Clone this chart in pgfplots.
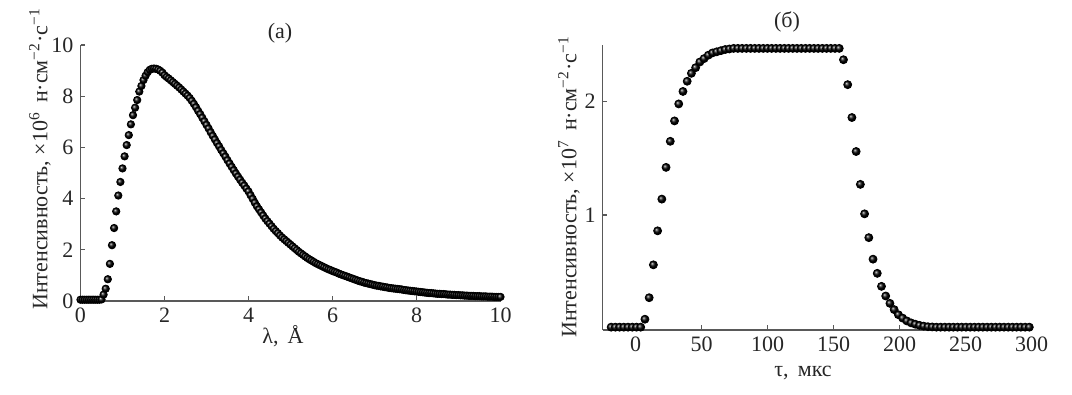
\documentclass[border=0pt]{standalone}
\usepackage{fontspec}
\setmainfont{Liberation Serif}
\usepackage{pgfplots}
\pgfplotsset{compat=1.18}
\usetikzlibrary{plotmarks}

\pgfplotsset{
  myaxis/.style={
    scale only axis,
    axis lines*=left,
    axis line style={black!65, line width=0.6pt},
    tick style={black!65, line width=0.6pt},
    tick align=inside,
    major tick length=2.3pt,
    minor tick num=0,
    /pgf/number format/assume math mode=true,
    ticklabel style={font=\fontsize{11}{13}\selectfont, text=black!85},
    clip=false,
  },
}

\begin{document}
\begin{tikzpicture}
\useasboundingbox (0,0) rectangle (536pt,197.5pt);

% ---------- (a) ----------
\begin{axis}[myaxis,
  at={(40.25pt,47pt)}, anchor=south west,
  width=210pt, height=128pt,
  xmin=0, xmax=10, ymin=0, ymax=10,
  xtick={0,2,...,10}, ytick={0,2,...,10},
]
\addplot[only marks, mark=ball, mark size=1.85pt, mark options={ball color=black}]
coordinates {
(0.00,0.05)(0.05,0.05)(0.10,0.05)(0.15,0.05)(0.20,0.05)(0.25,0.05)(0.30,0.05)(0.35,0.05)
(0.40,0.05)(0.45,0.05)(0.50,0.06)(0.55,0.25)(0.60,0.48)(0.65,0.85)(0.70,1.45)(0.75,2.18)
(0.80,2.85)(0.85,3.50)(0.90,4.12)(0.95,4.65)(1.00,5.18)(1.05,5.65)(1.10,6.09)(1.15,6.48)
(1.20,6.90)(1.25,7.26)(1.30,7.55)(1.35,7.85)(1.40,8.18)(1.45,8.40)(1.50,8.63)(1.55,8.80)
(1.60,8.94)(1.65,9.03)(1.70,9.07)(1.75,9.08)(1.80,9.07)(1.85,9.04)(1.90,8.99)(1.95,8.92)
(2.00,8.82)(2.05,8.75)(2.10,8.69)(2.15,8.62)(2.20,8.55)(2.25,8.48)(2.30,8.41)(2.35,8.34)
(2.40,8.26)(2.45,8.18)(2.50,8.10)(2.55,8.02)(2.60,7.93)(2.65,7.82)(2.70,7.70)(2.75,7.57)
(2.80,7.43)(2.85,7.30)(2.90,7.16)(2.95,7.02)(3.00,6.88)(3.05,6.74)(3.10,6.59)(3.15,6.45)
(3.20,6.31)(3.25,6.17)(3.30,6.04)(3.35,5.90)(3.40,5.77)(3.45,5.64)(3.50,5.50)(3.55,5.37)
(3.60,5.24)(3.65,5.11)(3.70,4.98)(3.75,4.86)(3.80,4.74)(3.85,4.62)(3.90,4.51)(3.95,4.39)
(4.00,4.28)(4.05,4.13)(4.10,3.99)(4.15,3.84)(4.20,3.70)(4.25,3.58)(4.30,3.46)(4.35,3.34)
(4.40,3.22)(4.45,3.12)(4.50,3.02)(4.55,2.92)(4.60,2.82)(4.65,2.73)(4.70,2.65)(4.75,2.56)
(4.80,2.48)(4.85,2.41)(4.90,2.34)(4.95,2.27)(5.00,2.20)(5.05,2.13)(5.10,2.06)(5.15,1.99)
(5.20,1.92)(5.25,1.86)(5.30,1.80)(5.35,1.74)(5.40,1.68)(5.45,1.63)(5.50,1.58)(5.55,1.53)
(5.60,1.48)(5.65,1.44)(5.70,1.40)(5.75,1.36)(5.80,1.32)(5.85,1.28)(5.90,1.24)(5.95,1.21)
(6.00,1.17)(6.05,1.14)(6.10,1.11)(6.15,1.07)(6.20,1.04)(6.25,1.01)(6.30,0.98)(6.35,0.95)
(6.40,0.92)(6.45,0.89)(6.50,0.86)(6.55,0.83)(6.60,0.80)(6.65,0.77)(6.70,0.75)(6.75,0.72)
(6.80,0.70)(6.85,0.68)(6.90,0.66)(6.95,0.64)(7.00,0.62)(7.05,0.60)(7.10,0.59)(7.15,0.57)
(7.20,0.56)(7.25,0.54)(7.30,0.53)(7.35,0.51)(7.40,0.50)(7.45,0.49)(7.50,0.48)(7.55,0.47)
(7.60,0.46)(7.65,0.45)(7.70,0.43)(7.75,0.42)(7.80,0.41)(7.85,0.40)(7.90,0.39)(7.95,0.38)
(8.00,0.37)(8.05,0.36)(8.10,0.35)(8.15,0.34)(8.20,0.33)(8.25,0.32)(8.30,0.31)(8.35,0.31)
(8.40,0.30)(8.45,0.29)(8.50,0.28)(8.55,0.28)(8.60,0.27)(8.65,0.27)(8.70,0.26)(8.75,0.25)
(8.80,0.25)(8.85,0.24)(8.90,0.24)(8.95,0.23)(9.00,0.23)(9.05,0.22)(9.10,0.22)(9.15,0.21)
(9.20,0.21)(9.25,0.20)(9.30,0.20)(9.35,0.20)(9.40,0.19)(9.45,0.19)(9.50,0.19)(9.55,0.18)
(9.60,0.18)(9.65,0.18)(9.70,0.17)(9.75,0.17)(9.80,0.17)(9.85,0.16)(9.90,0.16)(9.95,0.16)
(10.00,0.16)
};
\end{axis}

% ---------- (б) ----------
\begin{axis}[myaxis,
  at={(301.35pt,32.5pt)}, anchor=south west,
  width=214.5pt, height=142.5pt,
  xmin=-25, xmax=300, ymin=-0.015, ymax=2.5,
  xtick={0,50,...,300}, ytick={1,2},
]
\addplot[only marks, mark=ball, mark size=2pt, mark options={ball color=black}]
coordinates {
(-18.6,0.01)(-15.4,0.01)(-12.2,0.01)(-9.0,0.01)(-5.8,0.01)(-2.6,0.01)(0.6,0.01)(3.8,0.01)
(7.0,0.08)(10.2,0.27)(13.4,0.56)(16.6,0.86)(19.8,1.14)(23.0,1.42)(26.2,1.65)(29.4,1.83)
(32.6,1.98)(35.8,2.09)(39.0,2.18)(42.2,2.25)(45.4,2.30)(48.6,2.35)(51.8,2.38)(55.0,2.41)
(58.2,2.43)(61.4,2.44)(64.6,2.45)(67.8,2.46)(71.0,2.465)(74.2,2.47)(77.4,2.47)(80.6,2.47)
(83.8,2.47)(87.0,2.47)(90.2,2.47)(93.4,2.47)(96.6,2.47)(99.8,2.47)(103.0,2.47)(106.2,2.47)
(109.4,2.47)(112.6,2.47)(115.8,2.47)(119.0,2.47)(122.2,2.47)(125.4,2.47)(128.6,2.47)(131.8,2.47)
(135.0,2.47)(138.2,2.47)(141.4,2.47)(144.6,2.47)(147.8,2.47)(151.0,2.47)(154.2,2.47)
(157.4,2.37)(160.6,2.15)(163.8,1.86)(167.0,1.56)(170.2,1.27)(173.4,1.01)(176.6,0.80)(179.8,0.61)
(183.0,0.485)(186.2,0.37)(189.4,0.285)(192.6,0.22)(195.8,0.165)(199.0,0.12)(202.2,0.09)(205.4,0.065)
(208.6,0.048)(211.8,0.036)(215.0,0.026)(218.2,0.019)(221.4,0.014)(224.6,0.012)(227.8,0.01)(231.0,0.01)
(234.2,0.01)(237.4,0.01)(240.6,0.01)(243.8,0.01)(247.0,0.01)(250.2,0.01)(253.4,0.01)(256.6,0.01)
(259.8,0.01)(263.0,0.01)(266.2,0.01)(269.4,0.01)(272.6,0.01)(275.8,0.01)(279.0,0.01)(282.2,0.01)
(285.4,0.01)(288.6,0.01)(291.8,0.01)(295.0,0.01)(298.2,0.01)
};
\end{axis}

% ---------- labels ----------
\begin{scope}[every node/.style={font=\fontsize{11}{13}\selectfont, text=black!85, inner sep=0pt}]
\node at (140pt,181pt) {(a)};
\node at (393.5pt,186.5pt) {(б)};
\node at (141.5pt,29.5pt) {λ,\, Å};
\node at (401.5pt,11pt) {τ,\, мкс};
\node[rotate=90] at (20pt,118pt) {Интенсивность, ×10\textsuperscript{6}\, н·см\textsuperscript{−2}·с\textsuperscript{−1}};
\node[rotate=90] at (284.5pt,104pt) {Интенсивность, ×10\textsuperscript{7}\, н·см\textsuperscript{−2}·с\textsuperscript{−1}};
\end{scope}
\end{tikzpicture}
\end{document}
